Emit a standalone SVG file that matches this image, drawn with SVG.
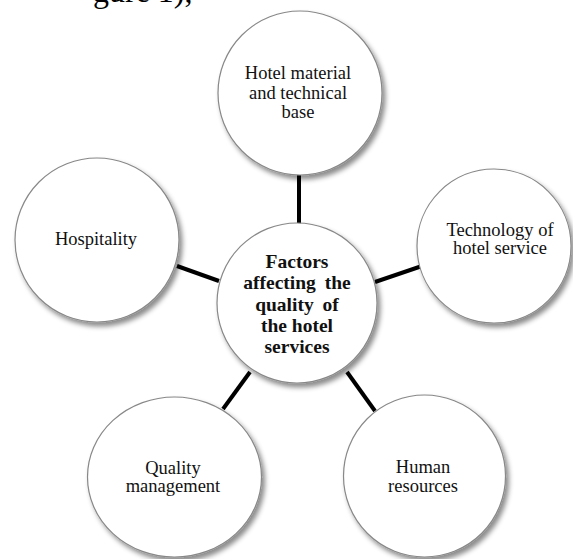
<svg xmlns="http://www.w3.org/2000/svg" width="573" height="559" viewBox="0 0 573 559">
<defs>
<filter id="sh" x="-20%" y="-20%" width="150%" height="150%">
<feDropShadow dx="3" dy="4" stdDeviation="2.5" flood-color="#000" flood-opacity="0.45"/>
</filter>
<style>
.n{fill:#fff;stroke:#888;stroke-width:1.2;filter:url(#sh)}
.t{font-family:"Liberation Serif","Times New Roman",serif;font-size:18.5px;fill:#111;text-anchor:middle}
.b{font-weight:bold;font-size:19.5px}
.c{stroke:#000;stroke-width:4;fill:none}
.top{font-family:"Liberation Serif","Times New Roman",serif;font-size:32px;fill:#000}
</style>
</defs>
<rect width="573" height="559" fill="#fff"/>
<text class="top" x="93" y="1.5">gure 1),</text>
<g id="connectors">
<line class="c" x1="299" y1="174" x2="299" y2="224"/>
<line class="c" x1="177" y1="266" x2="219" y2="281"/>
<line class="c" x1="422" y1="266" x2="375" y2="282"/>
<line class="c" x1="250" y1="372" x2="223" y2="409"/>
<line class="c" x1="347" y1="372" x2="375" y2="411"/>
</g>
<g id="node-top">
<circle class="n" cx="300" cy="93" r="82"/>
<text class="t" x="298" y="79">Hotel material</text>
<text class="t" x="298" y="98.5">and technical</text>
<text class="t" x="298" y="118">base</text>
</g>
<g id="node-hospitality">
<circle class="n" cx="97" cy="240" r="82"/>
<text class="t" x="96" y="245">Hospitality</text>
</g>
<g id="node-technology">
<circle class="n" cx="494" cy="246" r="77"/>
<text class="t" x="500" y="236">Technology of</text>
<text class="t" x="500" y="254">hotel service</text>
</g>
<g id="node-quality">
<ellipse class="n" cx="174.5" cy="477" rx="87" ry="80"/>
<text class="t" x="173" y="474">Quality</text>
<text class="t" x="173" y="492">management</text>
</g>
<g id="node-human">
<circle class="n" cx="424.5" cy="476" r="81"/>
<text class="t" x="423" y="473">Human</text>
<text class="t" x="423" y="492">resources</text>
</g>
<g id="node-center">
<circle class="n" cx="297" cy="303" r="80"/>
<text class="t b" x="297" y="268">Factors</text>
<text class="t b" x="297" y="289" word-spacing="4">affecting the</text>
<text class="t b" x="297" y="311" word-spacing="4">quality of</text>
<text class="t b" x="297" y="332">the hotel</text>
<text class="t b" x="297" y="353">services</text>
</g>
</svg>
